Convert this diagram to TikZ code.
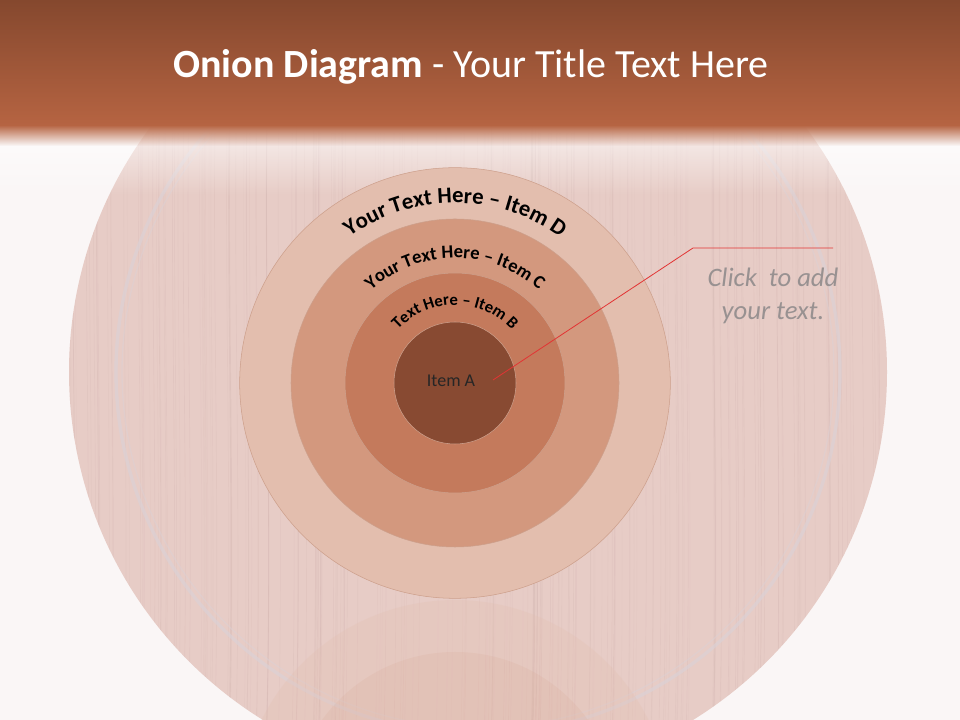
\documentclass[tikz,border=0pt]{standalone}
\usepackage{fontspec}
\setmainfont{Carlito}
\usetikzlibrary{decorations.text,fadings}

\definecolor{hdrtop}{RGB}{133,72,46}
\definecolor{hdrbot}{RGB}{182,100,66}
\definecolor{pagebg}{RGB}{250,246,246}
\definecolor{barrel}{RGB}{231,204,198}
\definecolor{graincol}{RGB}{185,150,150}
\definecolor{rimcol}{RGB}{218,210,216}
\definecolor{ringedge}{RGB}{205,160,140}
\definecolor{ringD}{RGB}{227,190,174}
\definecolor{ringC}{RGB}{211,152,126}
\definecolor{ringB}{RGB}{196,122,92}
\definecolor{ringA}{RGB}{136,74,50}
\definecolor{callout}{RGB}{226,52,52}
\definecolor{hint}{RGB}{152,145,145}

\newcommand\ringfontD{\bfseries\fontsize{17}{20}\selectfont}
\newcommand\ringfontC{\bfseries\fontsize{14}{17}\selectfont}
\newcommand\ringfontB{\bfseries\fontsize{12.5}{15}\selectfont}

\begin{document}
\begin{tikzpicture}[x=0.75pt, y=0.75pt,
  ring/.style={circle, draw=ringedge, line width=0.4pt, inner sep=0pt},
  arctext/.style={decorate, decoration={text along path, text align=center, text={#1}}},
  grain/.style={line width=0.5pt, draw=graincol}]
\useasboundingbox (0,0) rectangle (960,720);
\fill[pagebg] (0,0) rectangle (960,720);
\coordinate (bc) at (478,348);
\coordinate (o) at (455,337);
%barrel
\fill[barrel] (bc) circle[radius=409];
\begin{scope}
\clip (bc) circle[radius=409];
\pgfmathsetseed{11}
\foreach \i in {1,...,220}{
  \pgfmathsetmacro\gx{60+840*rnd}
  \pgfmathsetmacro\go{0.04+0.09*rnd}
  \draw[grain, opacity=\go] (\gx,0) .. controls (\gx+6,250) and (\gx-6,500) .. (\gx+3,720);
}
\end{scope}
\draw[rimcol, line width=2.5pt, opacity=.6] (bc) circle[radius=362];
\draw[rimcol, line width=1pt, opacity=.4] (bc) circle[radius=356];
%reflection
\fill[ringD, opacity=.25] (455,-96) circle[radius=216];
\fill[ringC, opacity=.12] (455,-96) circle[radius=164];
%header
\fill[white, opacity=.75, path fading=south] (0,525) rectangle (960,596);
\shade[top color=hdrtop, bottom color=hdrbot] (0,594) rectangle (960,720);
\fill[hdrbot, path fading=south] (0,574) rectangle (960,595);
\node[white, font=\fontsize{30}{36}\selectfont] (title) at (471,653)
  {\textbf{Onion Diagram} - Your Title Text Here};
%onion
\node[ring, fill=ringD, minimum size=323pt] (D) at (o) {};
\node[ring, fill=ringC, minimum size=246pt] (C) at (o) {};
\node[ring, fill=ringB, minimum size=165pt] (B) at (o) {};
\node[ring, fill=ringA, minimum size=91.5pt] (A) at (o) {};
\node[font=\fontsize{13.5}{16}\selectfont, text=black!85] (itemA) at (451,339) {Item A};
\path[arctext={|\ringfontD|Your Text Here – Item D}] (o) ++(180:180) arc[start angle=180, end angle=0, radius=180];
\path[arctext={|\ringfontC|Your Text Here – Item C}] (o) ++(180:125) arc[start angle=180, end angle=0, radius=125];
\path[arctext={|\ringfontB|Text Here – Item B}] (o) ++(180:78) arc[start angle=180, end angle=0, radius=78];
%callout
\coordinate (pA) at (493,340);
\coordinate (bend) at (693,472);
\coordinate (tail) at (833,472);
\draw[callout, line width=0.6pt] (pA) -- (bend) -- (tail);
\node[hint, align=center, font=\itshape\fontsize{20}{24.75}\selectfont] (click) at (773,424)
  {Click~ to add\\your text.};
\end{tikzpicture}
\end{document}
